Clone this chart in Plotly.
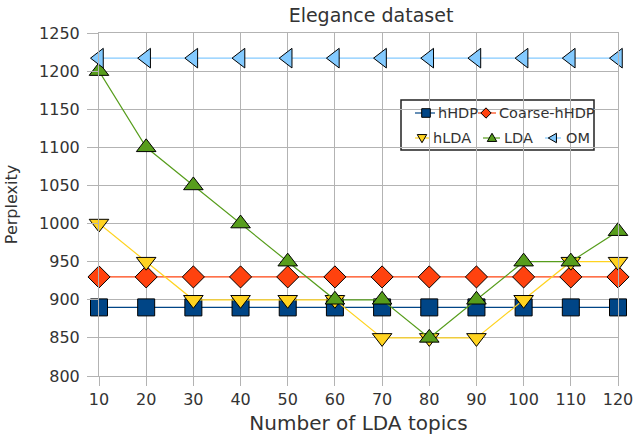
import plotly.graph_objects as go

topics = [10, 20, 30, 40, 50, 60, 70, 80, 90, 100, 110, 120]
hhdp = [890] * 12
coarse_hhdp = [930] * 12
hlda = [1000, 950, 900, 900, 900, 900, 850, 850, 850, 900, 950, 950]
lda = [1200, 1100, 1050, 1000, 950, 900, 900, 850, 900, 950, 950, 990]
om = [1217] * 12
y_ticks = list(range(800, 1251, 50))

names = ["hHDP", "Coarse-hHDP", "hLDA", "LDA", "OM"]
values = [hhdp, coarse_hhdp, hlda, lda, om]
colors = ["#004586", "#ff420e", "#ffd320", "#579d1c", "#83caff"]
symbols = ["square", "diamond", "triangle-down", "triangle-up", "triangle-left"]

W, H = 634, 435
L, R, T, B = 99, 16, 33, 59
PW, PH = W - L - R, H - T - B


def px(x):
    return (x - L) / PW


def py(y):
    return 1 - (y - T) / PH


fig = go.Figure()
for name, vals, color, sym in zip(names, values, colors, symbols):
    fig.add_trace(go.Scatter(
        x=topics, y=vals, name=name, mode="lines+markers",
        line=dict(color=color, width=1.2),
        marker=dict(symbol=sym, size=17, color=color, line=dict(color="black", width=1)),
        cliponaxis=False, showlegend=False,
    ))

# ---- legend box (drawn as layout decoration) ----
font = "DejaVu Sans, sans-serif"
grid = "#b3b3b3"
txt = "#333333"
shapes = [dict(type="rect", xref="paper", yref="paper",
               x0=px(401), x1=px(594), y0=py(150), y1=py(100),
               line=dict(color="#222222", width=1.5), fillcolor="white", layer="below")]
annotations = []

# (symbol line start, line end, marker centre, text start, row centre) in pixels
legend_slots = [
    (415, 435, 426, 436, 113),
    (478, 496, 486, 497, 113),
    (415, 429, 422, 431, 138),
    (483, 500, 492, 502, 138),
    (545, 561, 553, 564, 138),
]


def marker_path(sym, cx, cy, r):
    if sym == "square":
        pts = [(cx - r, cy - r), (cx + r, cy - r), (cx + r, cy + r), (cx - r, cy + r)]
    elif sym == "diamond":
        pts = [(cx, cy - r * 1.2), (cx + r * 1.2, cy), (cx, cy + r * 1.2), (cx - r * 1.2, cy)]
    elif sym == "triangle-down":
        pts = [(cx - r * 1.1, cy - r * 0.8), (cx + r * 1.1, cy - r * 0.8), (cx, cy + r * 1.1)]
    elif sym == "triangle-up":
        pts = [(cx - r * 1.1, cy + r * 0.8), (cx + r * 1.1, cy + r * 0.8), (cx, cy - r * 1.1)]
    else:  # triangle-left
        pts = [(cx + r * 0.8, cy - r * 1.1), (cx + r * 0.8, cy + r * 1.1), (cx - r * 1.1, cy)]
    return "M " + " L ".join(f"{px(a):.5f},{py(b):.5f}" for a, b in pts) + " Z"


for (x0, x1, cx, tx, cy), name, color, sym in zip(legend_slots, names, colors, symbols):
    shapes.append(dict(type="line", xref="paper", yref="paper",
                       x0=px(x0), x1=px(x1), y0=py(cy), y1=py(cy),
                       line=dict(color=color, width=1.2)))
    shapes.append(dict(type="path", xref="paper", yref="paper",
                       path=marker_path(sym, cx, cy, 4.3),
                       fillcolor=color, line=dict(color="black", width=1)))
    annotations.append(dict(text=name, xref="paper", yref="paper", x=px(tx), y=py(cy),
                            xanchor="left", yanchor="middle", showarrow=False,
                            font=dict(size=14.5, color=txt, family=font)))

fig.update_layout(
    width=W, height=H,
    margin=dict(l=L, r=R, t=T, b=B),
    paper_bgcolor="white", plot_bgcolor="white",
    font=dict(family=font, size=16, color=txt),
    showlegend=False,
    title=dict(text="Elegance dataset", x=371 / W, xanchor="center", xref="container",
               y=1 - 15 / H, yanchor="middle", yref="container",
               font=dict(size=19, color=txt)),
    xaxis=dict(range=[10, 120], tickvals=topics, showgrid=True, gridcolor=grid, gridwidth=1,
               showline=True, mirror=True, linecolor=grid, linewidth=1,
               ticks="outside", ticklen=9, tickcolor=grid, zeroline=False,
               tickfont=dict(size=16), automargin=False,
               title=dict(text="Number of LDA topics", font=dict(size=20), standoff=10)),
    yaxis=dict(range=[800, 1250], tickvals=y_ticks, showgrid=True, gridcolor=grid, gridwidth=1,
               showline=True, mirror=True, linecolor=grid, linewidth=1,
               ticks="outside", ticklen=11, tickcolor=grid, zeroline=False,
               tickfont=dict(size=16), automargin=False, ticklabelstandoff=4,
               title=dict(text="Perplexity", font=dict(size=16), standoff=17)),
    shapes=shapes,
    annotations=annotations,
)
fig.write_html("out.html", config={"displayModeBar": False},
               post_script="document.body.style.margin='0px';document.body.style.overflow='hidden';")
